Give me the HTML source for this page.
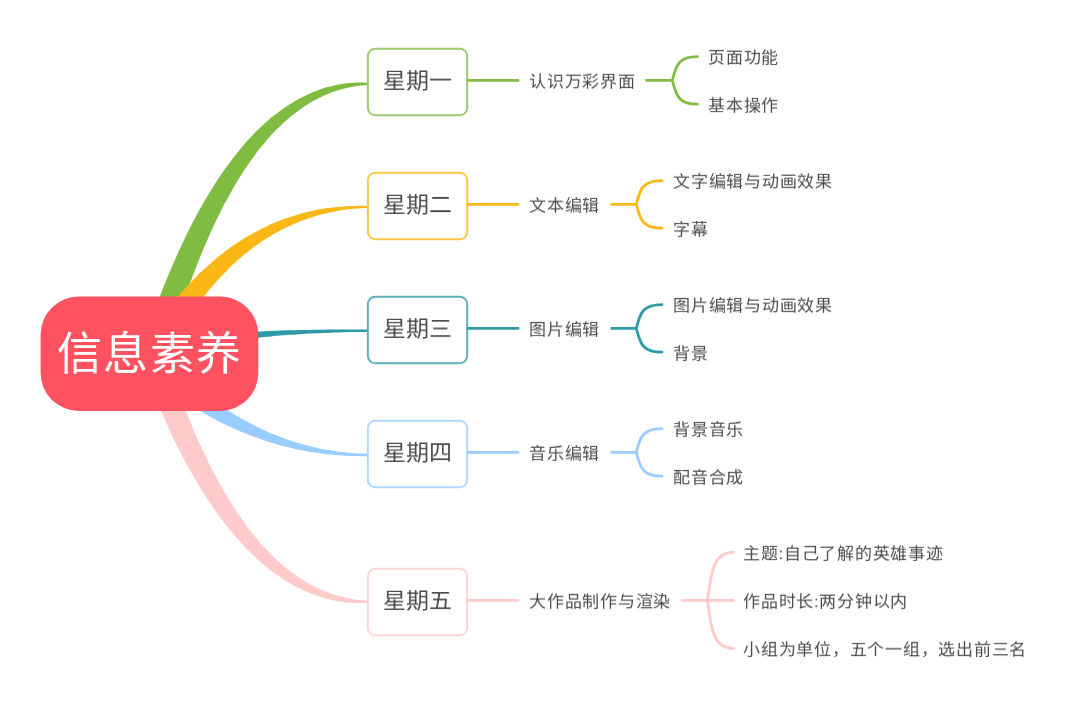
<!DOCTYPE html>
<html lang="zh-CN"><head><meta charset="utf-8"><style>
html,body{margin:0;padding:0;background:#fff;width:1080px;height:708px;overflow:hidden}
body{position:relative;font-family:"Liberation Sans",sans-serif;color:#4d4d4d}
svg{position:absolute;left:0;top:0}
.t,.m,.s{position:absolute;white-space:nowrap;line-height:1;will-change:transform}
.root{left:57px;top:332px;font-size:45px;letter-spacing:1.3px;color:#fff}
.m{left:383px;font-size:23px;line-height:32px;height:32px;transform:translateY(-0.5px) scaleY(0.95)}
.s{left:529px;font-size:17px;letter-spacing:0.75px;line-height:22px;height:22px;transform:translateY(0.4px) scaleY(0.95)}
</style></head><body>
<svg width="1080" height="708" viewBox="0 0 1080 708">
<path d="M163.88,366.00 C165.20,361.33 166.51,356.59 167.83,351.98 C169.16,347.36 170.50,342.81 171.85,338.32 C173.20,333.83 174.56,329.39 175.93,325.02 C177.30,320.65 178.69,316.34 180.08,312.10 C181.47,307.85 182.88,303.66 184.29,299.53 C185.70,295.41 187.13,291.34 188.57,287.33 C190.00,283.33 191.45,279.38 192.91,275.50 C194.36,271.62 195.83,267.79 197.31,264.03 C198.79,260.27 200.28,256.57 201.78,252.92 C203.28,249.28 204.79,245.70 206.32,242.18 C207.84,238.66 209.37,235.20 210.91,231.80 C212.46,228.40 214.01,225.07 215.57,221.79 C217.14,218.51 218.71,215.29 220.30,212.13 C221.89,208.98 223.48,205.88 225.09,202.84 C226.70,199.80 228.31,196.83 229.94,193.91 C231.57,190.99 233.21,188.14 234.86,185.34 C236.51,182.54 238.17,179.81 239.84,177.13 C241.51,174.45 243.19,171.83 244.88,169.28 C246.58,166.72 248.28,164.22 249.99,161.78 C251.71,159.34 253.43,156.96 255.16,154.64 C256.90,152.32 258.65,150.06 260.40,147.86 C262.16,145.66 263.93,143.51 265.70,141.43 C267.48,139.34 269.27,137.32 271.07,135.35 C272.88,133.38 274.69,131.47 276.51,129.62 C278.34,127.77 280.17,125.98 282.02,124.25 C283.87,122.51 285.72,120.83 287.59,119.21 C289.47,117.59 291.35,116.03 293.24,114.53 C295.14,113.02 297.05,111.58 298.97,110.19 C300.89,108.80 302.83,107.46 304.77,106.19 C306.72,104.91 308.68,103.69 310.66,102.53 C312.63,101.37 314.62,100.26 316.63,99.22 C318.63,98.17 320.65,97.18 322.68,96.24 C324.72,95.30 326.77,94.43 328.83,93.60 C330.90,92.78 332.98,92.02 335.08,91.31 C337.18,90.60 339.29,89.95 341.42,89.35 C343.55,88.76 345.70,88.22 347.87,87.74 C350.04,87.26 352.22,86.84 354.42,86.47 C356.62,86.10 358.84,85.79 361.08,85.53 C363.32,85.27 365.59,85.11 367.85,84.89 L367.85,82.89 C365.54,82.80 363.23,82.64 360.92,82.62 C358.62,82.60 356.32,82.66 354.02,82.78 C351.72,82.90 349.43,83.09 347.15,83.34 C344.86,83.59 342.58,83.91 340.30,84.29 C338.02,84.67 335.75,85.11 333.49,85.63 C331.23,86.14 328.97,86.71 326.72,87.36 C324.46,88.00 322.22,88.70 319.98,89.48 C317.74,90.25 315.51,91.09 313.29,91.99 C311.07,92.89 308.85,93.86 306.65,94.89 C304.44,95.93 302.24,97.03 300.06,98.19 C297.87,99.35 295.69,100.58 293.52,101.88 C291.35,103.17 289.19,104.53 287.04,105.95 C284.89,107.37 282.75,108.86 280.62,110.41 C278.49,111.97 276.37,113.58 274.26,115.26 C272.15,116.94 270.06,118.69 267.97,120.50 C265.88,122.30 263.81,124.18 261.74,126.11 C259.68,128.05 257.63,130.05 255.59,132.11 C253.55,134.17 251.52,136.30 249.50,138.49 C247.48,140.68 245.48,142.93 243.48,145.24 C241.49,147.56 239.51,149.94 237.53,152.38 C235.56,154.82 233.61,157.32 231.66,159.88 C229.71,162.45 227.78,165.08 225.85,167.77 C223.93,170.46 222.02,173.21 220.12,176.02 C218.22,178.83 216.34,181.71 214.46,184.65 C212.59,187.59 210.72,190.59 208.87,193.65 C207.02,196.71 205.18,199.83 203.36,203.02 C201.53,206.20 199.72,209.45 197.91,212.76 C196.11,216.07 194.32,219.44 192.54,222.87 C190.76,226.30 188.99,229.79 187.24,233.35 C185.48,236.90 183.74,240.52 182.01,244.19 C180.28,247.87 178.56,251.61 176.85,255.41 C175.15,259.21 173.45,263.07 171.77,266.99 C170.08,270.92 168.41,274.90 166.75,278.95 C165.09,282.99 163.44,287.10 161.81,291.26 C160.17,295.43 158.55,299.66 156.93,303.95 C155.32,308.24 153.72,312.59 152.13,317.00 C150.54,321.41 148.97,325.89 147.40,330.42 C145.84,334.96 144.28,339.55 142.74,344.21 C141.20,348.86 139.68,353.64 138.15,358.36Z" fill="#80bc42"/>
<path d="M163.86,361.18 C165.13,358.69 166.40,356.17 167.69,353.72 C168.98,351.26 170.28,348.83 171.59,346.44 C172.90,344.04 174.22,341.68 175.56,339.35 C176.89,337.02 178.24,334.72 179.59,332.45 C180.95,330.18 182.32,327.94 183.70,325.73 C185.08,323.52 186.47,321.35 187.87,319.20 C189.27,317.06 190.68,314.94 192.11,312.86 C193.53,310.78 194.97,308.72 196.42,306.70 C197.86,304.68 199.32,302.69 200.79,300.73 C202.27,298.77 203.75,296.84 205.24,294.94 C206.74,293.04 208.24,291.18 209.76,289.34 C211.28,287.50 212.81,285.70 214.35,283.92 C215.89,282.15 217.45,280.40 219.01,278.69 C220.58,276.97 222.16,275.29 223.75,273.63 C225.34,271.98 226.94,270.36 228.56,268.77 C230.17,267.17 231.80,265.61 233.44,264.08 C235.08,262.55 236.73,261.05 238.39,259.58 C240.06,258.11 241.74,256.67 243.43,255.26 C245.12,253.85 246.82,252.47 248.53,251.13 C250.25,249.78 251.98,248.46 253.72,247.17 C255.46,245.89 257.22,244.63 258.99,243.40 C260.75,242.18 262.54,240.98 264.33,239.82 C266.12,238.65 267.93,237.52 269.75,236.42 C271.58,235.31 273.41,234.24 275.26,233.20 C277.11,232.16 278.97,231.15 280.85,230.17 C282.72,229.19 284.61,228.24 286.52,227.32 C288.42,226.40 290.34,225.52 292.27,224.66 C294.20,223.81 296.15,222.98 298.11,222.19 C300.07,221.40 302.04,220.64 304.03,219.91 C306.02,219.18 308.02,218.48 310.04,217.82 C312.05,217.16 314.08,216.52 316.13,215.92 C318.17,215.32 320.23,214.75 322.30,214.22 C324.37,213.68 326.46,213.18 328.56,212.71 C330.66,212.23 332.77,211.80 334.90,211.39 C337.03,210.99 339.17,210.62 341.33,210.28 C343.48,209.94 345.65,209.63 347.84,209.36 C350.02,209.10 352.22,208.86 354.43,208.66 C356.64,208.46 358.86,208.29 361.10,208.16 C363.34,208.04 365.60,207.99 367.85,207.91 L367.85,205.91 C365.58,205.88 363.30,205.84 361.03,205.84 C358.77,205.85 356.52,205.87 354.27,205.93 C352.02,205.99 349.79,206.08 347.56,206.20 C345.33,206.32 343.11,206.46 340.90,206.65 C338.69,206.83 336.48,207.04 334.29,207.28 C332.09,207.52 329.90,207.80 327.72,208.11 C325.54,208.41 323.37,208.75 321.21,209.12 C319.05,209.49 316.89,209.90 314.74,210.33 C312.60,210.77 310.46,211.24 308.33,211.74 C306.19,212.24 304.07,212.77 301.96,213.34 C299.84,213.91 297.73,214.51 295.63,215.14 C293.53,215.78 291.44,216.44 289.36,217.14 C287.28,217.84 285.20,218.58 283.13,219.35 C281.07,220.11 279.01,220.91 276.96,221.75 C274.91,222.58 272.87,223.45 270.83,224.35 C268.80,225.26 266.77,226.19 264.76,227.16 C262.74,228.13 260.73,229.14 258.73,230.18 C256.73,231.22 254.74,232.29 252.76,233.40 C250.78,234.50 248.81,235.64 246.84,236.82 C244.88,237.99 242.92,239.20 240.98,240.45 C239.03,241.69 237.09,242.97 235.17,244.28 C233.24,245.60 231.32,246.94 229.41,248.32 C227.50,249.70 225.60,251.12 223.71,252.57 C221.82,254.02 219.94,255.50 218.07,257.02 C216.20,258.54 214.34,260.09 212.49,261.68 C210.64,263.27 208.80,264.89 206.97,266.54 C205.14,268.20 203.32,269.89 201.50,271.61 C199.69,273.33 197.89,275.09 196.10,276.88 C194.31,278.68 192.53,280.50 190.76,282.36 C188.99,284.22 187.23,286.12 185.48,288.05 C183.73,289.97 181.99,291.94 180.26,293.93 C178.54,295.93 176.82,297.96 175.11,300.02 C173.40,302.09 171.71,304.18 170.02,306.32 C168.33,308.45 166.66,310.61 164.99,312.81 C163.33,315.01 161.67,317.24 160.03,319.51 C158.39,321.78 156.75,324.08 155.13,326.41 C153.51,328.74 151.90,331.11 150.30,333.51 C148.70,335.91 147.11,338.35 145.53,340.81 C143.95,343.28 142.40,345.82 140.83,348.32Z" fill="#fbb716"/>
<path d="M154.18,361.43 C155.25,360.97 156.29,360.51 157.38,360.06 C158.47,359.61 159.58,359.16 160.71,358.72 C161.84,358.28 163.00,357.84 164.17,357.41 C165.34,356.98 166.54,356.55 167.75,356.13 C168.97,355.70 170.20,355.28 171.46,354.87 C172.72,354.46 173.99,354.05 175.29,353.64 C176.59,353.24 177.91,352.84 179.25,352.45 C180.58,352.05 181.94,351.66 183.32,351.28 C184.70,350.89 186.10,350.52 187.52,350.14 C188.94,349.77 190.38,349.40 191.84,349.04 C193.30,348.68 194.78,348.32 196.28,347.97 C197.78,347.61 199.30,347.27 200.84,346.93 C202.38,346.58 203.94,346.25 205.51,345.92 C207.09,345.59 208.69,345.26 210.31,344.94 C211.93,344.62 213.57,344.31 215.23,344.00 C216.88,343.69 218.56,343.39 220.26,343.09 C221.96,342.79 223.67,342.50 225.41,342.21 C227.14,341.93 228.90,341.65 230.68,341.37 C232.45,341.09 234.25,340.83 236.06,340.56 C237.87,340.30 239.71,340.04 241.56,339.79 C243.41,339.53 245.28,339.29 247.18,339.05 C249.07,338.81 250.98,338.57 252.91,338.34 C254.84,338.11 256.79,337.89 258.76,337.67 C260.72,337.45 262.71,337.24 264.72,337.03 C266.72,336.83 268.75,336.63 270.80,336.43 C272.84,336.24 274.90,336.05 276.99,335.87 C279.07,335.69 281.17,335.51 283.29,335.34 C285.42,335.17 287.56,335.00 289.72,334.85 C291.88,334.69 294.05,334.53 296.25,334.39 C298.45,334.24 300.67,334.10 302.90,333.97 C305.14,333.83 307.39,333.71 309.66,333.58 C311.94,333.46 314.23,333.35 316.54,333.24 C318.85,333.13 321.18,333.03 323.53,332.93 C325.88,332.83 328.25,332.74 330.64,332.66 C333.02,332.58 335.43,332.50 337.85,332.43 C340.28,332.36 342.72,332.30 345.18,332.24 C347.65,332.18 350.13,332.14 352.63,332.09 C355.13,332.05 357.64,332.02 360.18,331.99 C362.72,331.97 365.29,331.96 367.85,331.95 L367.85,329.57 C365.29,329.57 362.71,329.56 360.17,329.56 C357.63,329.55 355.11,329.55 352.61,329.55 C350.10,329.55 347.62,329.55 345.15,329.55 C342.68,329.56 340.24,329.56 337.81,329.58 C335.38,329.59 332.96,329.60 330.57,329.62 C328.18,329.64 325.80,329.66 323.45,329.68 C321.09,329.71 318.76,329.74 316.44,329.77 C314.12,329.80 311.82,329.84 309.53,329.88 C307.25,329.92 304.99,329.96 302.74,330.01 C300.49,330.05 298.27,330.11 296.06,330.16 C293.85,330.22 291.66,330.28 289.49,330.34 C287.31,330.40 285.16,330.47 283.02,330.54 C280.89,330.62 278.77,330.69 276.67,330.77 C274.57,330.85 272.49,330.94 270.42,331.02 C268.36,331.11 266.31,331.21 264.29,331.30 C262.26,331.40 260.25,331.50 258.26,331.61 C256.27,331.71 254.30,331.82 252.34,331.93 C250.39,332.05 248.45,332.17 246.53,332.29 C244.61,332.41 242.71,332.54 240.83,332.67 C238.95,332.80 237.08,332.94 235.23,333.08 C233.39,333.22 231.56,333.36 229.75,333.51 C227.93,333.66 226.14,333.81 224.37,333.97 C222.59,334.13 220.83,334.29 219.09,334.46 C217.35,334.62 215.63,334.80 213.92,334.97 C212.22,335.15 210.53,335.33 208.86,335.51 C207.19,335.70 205.54,335.89 203.91,336.08 C202.27,336.28 200.66,336.48 199.06,336.68 C197.46,336.88 195.88,337.09 194.31,337.31 C192.75,337.52 191.20,337.74 189.67,337.96 C188.14,338.18 186.63,338.41 185.13,338.64 C183.63,338.88 182.16,339.11 180.69,339.36 C179.23,339.60 177.79,339.85 176.36,340.10 C174.93,340.35 173.52,340.61 172.13,340.87 C170.73,341.13 169.36,341.40 168.00,341.67 C166.64,341.95 165.29,342.22 163.97,342.51 C162.64,342.79 161.33,343.08 160.03,343.37 C158.74,343.67 157.46,343.97 156.20,344.27 C154.94,344.58 153.69,344.89 152.46,345.20 C151.23,345.52 150.04,345.85 148.82,346.17Z" fill="#2d9aa8"/>
<path d="M129.19,357.26 C131.10,359.00 133.00,360.78 134.92,362.50 C136.83,364.23 138.75,365.93 140.67,367.60 C142.60,369.28 144.52,370.93 146.45,372.56 C148.38,374.18 150.32,375.79 152.26,377.37 C154.19,378.94 156.14,380.50 158.08,382.03 C160.03,383.56 161.97,385.06 163.93,386.54 C165.88,388.02 167.84,389.48 169.80,390.91 C171.76,392.34 173.72,393.75 175.69,395.13 C177.65,396.52 179.62,397.88 181.60,399.21 C183.57,400.55 185.55,401.86 187.53,403.14 C189.51,404.43 191.49,405.69 193.48,406.93 C195.47,408.17 197.46,409.38 199.45,410.57 C201.45,411.76 203.44,412.93 205.44,414.07 C207.44,415.21 209.45,416.33 211.46,417.42 C213.46,418.51 215.47,419.58 217.49,420.63 C219.50,421.67 221.52,422.69 223.54,423.69 C225.55,424.69 227.58,425.66 229.60,426.61 C231.63,427.56 233.66,428.49 235.69,429.39 C237.72,430.29 239.76,431.17 241.79,432.02 C243.83,432.88 245.87,433.71 247.92,434.52 C249.96,435.33 252.01,436.11 254.06,436.87 C256.11,437.63 258.16,438.37 260.21,439.08 C262.27,439.80 264.33,440.49 266.39,441.16 C268.45,441.82 270.52,442.47 272.58,443.09 C274.65,443.71 276.72,444.31 278.80,444.89 C280.87,445.46 282.95,446.01 285.03,446.54 C287.11,447.07 289.19,447.58 291.27,448.07 C293.36,448.55 295.45,449.01 297.54,449.45 C299.63,449.89 301.73,450.31 303.83,450.70 C305.92,451.10 308.03,451.47 310.13,451.82 C312.24,452.17 314.34,452.50 316.46,452.81 C318.57,453.11 320.68,453.40 322.80,453.66 C324.92,453.93 327.04,454.17 329.17,454.39 C331.29,454.61 333.42,454.81 335.55,454.98 C337.69,455.16 339.82,455.32 341.96,455.46 C344.10,455.59 346.25,455.71 348.40,455.80 C350.55,455.90 352.70,455.97 354.86,456.03 C357.01,456.09 359.17,456.12 361.34,456.14 C363.50,456.16 365.68,456.15 367.85,456.16 L367.85,453.64 C365.70,453.60 363.54,453.59 361.40,453.51 C359.25,453.44 357.11,453.33 354.98,453.20 C352.85,453.07 350.72,452.91 348.60,452.73 C346.48,452.54 344.37,452.33 342.26,452.09 C340.15,451.85 338.06,451.59 335.96,451.30 C333.87,451.01 331.78,450.69 329.71,450.35 C327.63,450.01 325.56,449.64 323.49,449.25 C321.43,448.85 319.37,448.44 317.32,447.99 C315.27,447.55 313.23,447.08 311.20,446.59 C309.16,446.10 307.14,445.58 305.12,445.04 C303.10,444.49 301.08,443.93 299.08,443.34 C297.07,442.75 295.08,442.13 293.09,441.49 C291.10,440.85 289.12,440.18 287.14,439.50 C285.17,438.81 283.20,438.10 281.24,437.36 C279.29,436.62 277.34,435.86 275.39,435.08 C273.45,434.29 271.51,433.49 269.59,432.65 C267.66,431.82 265.74,430.97 263.83,430.09 C261.91,429.21 260.01,428.31 258.11,427.38 C256.22,426.45 254.33,425.50 252.45,424.53 C250.57,423.56 248.69,422.56 246.83,421.54 C244.96,420.52 243.10,419.48 241.25,418.41 C239.40,417.35 237.56,416.26 235.73,415.15 C233.89,414.04 232.06,412.90 230.24,411.74 C228.42,410.58 226.61,409.40 224.81,408.20 C223.00,407.00 221.21,405.77 219.42,404.52 C217.63,403.27 215.85,402.00 214.07,400.70 C212.30,399.41 210.53,398.09 208.77,396.75 C207.01,395.41 205.26,394.04 203.52,392.66 C201.77,391.27 200.03,389.86 198.31,388.43 C196.58,387.00 194.85,385.55 193.14,384.07 C191.42,382.59 189.71,381.09 188.01,379.57 C186.31,378.05 184.62,376.51 182.93,374.94 C181.25,373.37 179.57,371.78 177.90,370.17 C176.22,368.56 174.56,366.92 172.90,365.27 C171.24,363.61 169.59,361.93 167.95,360.23 C166.31,358.53 164.67,356.80 163.04,355.06 C161.41,353.31 159.79,351.54 158.17,349.75 C156.55,347.96 154.94,346.14 153.34,344.31 C151.74,342.47 150.15,340.59 148.56,338.73Z" fill="#99ccff"/>
<path d="M139.08,355.80 C140.64,360.04 142.19,364.34 143.76,368.53 C145.33,372.71 146.92,376.84 148.51,380.92 C150.11,385.00 151.71,389.02 153.33,392.98 C154.94,396.95 156.57,400.86 158.21,404.72 C159.85,408.57 161.49,412.38 163.15,416.12 C164.81,419.87 166.48,423.56 168.16,427.19 C169.85,430.83 171.54,434.41 173.24,437.94 C174.94,441.46 176.66,444.93 178.38,448.35 C180.11,451.76 181.84,455.12 183.59,458.43 C185.33,461.73 187.09,464.98 188.86,468.17 C190.63,471.37 192.41,474.50 194.20,477.59 C195.99,480.67 197.79,483.70 199.60,486.67 C201.41,489.64 203.24,492.56 205.07,495.42 C206.90,498.28 208.75,501.08 210.61,503.83 C212.46,506.58 214.33,509.27 216.21,511.91 C218.08,514.55 219.97,517.13 221.87,519.65 C223.77,522.18 225.68,524.65 227.60,527.06 C229.52,529.47 231.46,531.83 233.40,534.13 C235.34,536.43 237.30,538.67 239.26,540.86 C241.22,543.05 243.20,545.18 245.18,547.25 C247.17,549.33 249.17,551.34 251.17,553.30 C253.18,555.26 255.20,557.17 257.22,559.01 C259.25,560.86 261.29,562.65 263.34,564.38 C265.38,566.11 267.44,567.79 269.51,569.40 C271.58,571.02 273.65,572.58 275.74,574.08 C277.83,575.58 279.92,577.03 282.03,578.41 C284.13,579.80 286.25,581.12 288.37,582.39 C290.49,583.66 292.63,584.87 294.77,586.03 C296.91,587.18 299.06,588.28 301.21,589.31 C303.37,590.35 305.54,591.33 307.71,592.24 C309.88,593.16 312.06,594.03 314.25,594.83 C316.43,595.63 318.63,596.37 320.83,597.06 C323.03,597.74 325.24,598.37 327.45,598.94 C329.66,599.51 331.88,600.02 334.10,600.47 C336.33,600.92 338.56,601.32 340.79,601.65 C343.03,601.99 345.27,602.27 347.52,602.49 C349.76,602.71 352.01,602.87 354.27,602.97 C356.52,603.07 358.78,603.12 361.05,603.10 C363.31,603.08 365.58,602.93 367.85,602.85 L367.85,600.85 C365.63,600.65 363.39,600.50 361.19,600.26 C358.98,600.02 356.79,599.74 354.62,599.41 C352.45,599.07 350.29,598.68 348.15,598.24 C346.01,597.81 343.89,597.32 341.78,596.77 C339.67,596.23 337.58,595.64 335.50,594.99 C333.42,594.35 331.36,593.65 329.31,592.91 C327.26,592.16 325.23,591.36 323.21,590.51 C321.19,589.66 319.19,588.76 317.19,587.81 C315.20,586.86 313.23,585.85 311.26,584.80 C309.30,583.74 307.35,582.64 305.41,581.48 C303.47,580.32 301.54,579.12 299.63,577.86 C297.72,576.60 295.82,575.29 293.93,573.92 C292.04,572.56 290.16,571.15 288.30,569.68 C286.43,568.22 284.58,566.70 282.73,565.13 C280.89,563.56 279.06,561.94 277.24,560.27 C275.42,558.59 273.61,556.87 271.81,555.09 C270.01,553.31 268.22,551.48 266.45,549.60 C264.67,547.72 262.90,545.79 261.14,543.80 C259.39,541.81 257.64,539.77 255.90,537.68 C254.17,535.58 252.44,533.44 250.72,531.24 C249.01,529.04 247.30,526.79 245.61,524.48 C243.91,522.18 242.22,519.82 240.55,517.41 C238.87,514.99 237.21,512.53 235.55,510.01 C233.89,507.49 232.25,504.92 230.61,502.29 C228.97,499.67 227.34,496.98 225.73,494.25 C224.11,491.52 222.50,488.73 220.91,485.89 C219.31,483.04 217.72,480.15 216.14,477.20 C214.56,474.25 213.00,471.24 211.44,468.19 C209.88,465.13 208.33,462.02 206.79,458.85 C205.25,455.68 203.72,452.46 202.20,449.19 C200.69,445.91 199.18,442.58 197.68,439.20 C196.18,435.81 194.69,432.37 193.21,428.88 C191.73,425.39 190.26,421.84 188.80,418.24 C187.34,414.64 185.89,410.98 184.45,407.27 C183.01,403.56 181.58,399.79 180.16,395.97 C178.73,392.15 177.32,388.28 175.92,384.35 C174.52,380.42 173.13,376.44 171.75,372.40 C170.37,368.36 169.00,364.27 167.64,360.12 C166.28,355.97 164.94,351.72 163.58,347.51Z" fill="#ffcaca"/>
<rect x="367.85" y="48.65" width="99.35" height="66.65" rx="7.5" fill="#fff" stroke="#9ccb6c" stroke-width="2"/>
<path d="M468,80.4 H518" stroke="#80bc42" stroke-width="2.8" stroke-linecap="round" fill="none"/>
<path d="M646.5,80.4 H672.3 M672.3,80.4 C676.06,68.50 676.06,56.60 697.40,56.60 M672.3,80.4 C676.06,92.30 676.06,104.20 697.40,104.20" stroke="#80bc42" stroke-width="2.8" stroke-linecap="round" stroke-linejoin="round" fill="none"/>
<rect x="367.85" y="172.65" width="99.35" height="66.65" rx="7.5" fill="#fff" stroke="#fcc749" stroke-width="2"/>
<path d="M468,204.4 H518" stroke="#fbb716" stroke-width="2.8" stroke-linecap="round" fill="none"/>
<path d="M611.8,204.4 H636.2 M636.2,204.4 C640.07,192.50 640.07,180.60 662.00,180.60 M636.2,204.4 C640.07,216.30 640.07,228.20 662.00,228.20" stroke="#fbb716" stroke-width="2.8" stroke-linecap="round" stroke-linejoin="round" fill="none"/>
<rect x="367.85" y="296.65" width="99.35" height="66.65" rx="7.5" fill="#fff" stroke="#5bb0bb" stroke-width="2"/>
<path d="M468,328.4 H518" stroke="#2d9aa8" stroke-width="2.8" stroke-linecap="round" fill="none"/>
<path d="M611.8,328.4 H636.2 M636.2,328.4 C640.07,316.50 640.07,304.60 662.00,304.60 M636.2,328.4 C640.07,340.30 640.07,352.20 662.00,352.20" stroke="#2d9aa8" stroke-width="2.8" stroke-linecap="round" stroke-linejoin="round" fill="none"/>
<rect x="367.85" y="420.65" width="99.35" height="66.65" rx="7.5" fill="#fff" stroke="#afd7ff" stroke-width="2"/>
<path d="M468,452.4 H518" stroke="#99ccff" stroke-width="2.8" stroke-linecap="round" fill="none"/>
<path d="M611.8,452.4 H636.2 M636.2,452.4 C640.07,440.50 640.07,428.60 662.00,428.60 M636.2,452.4 C640.07,464.30 640.07,476.20 662.00,476.20" stroke="#99ccff" stroke-width="2.8" stroke-linecap="round" stroke-linejoin="round" fill="none"/>
<rect x="367.85" y="568.65" width="99.35" height="66.65" rx="7.5" fill="#fff" stroke="#ffd6d6" stroke-width="2"/>
<path d="M468,600.4 H518" stroke="#ffcaca" stroke-width="2.8" stroke-linecap="round" fill="none"/>
<path d="M682.0,600.4 H707.4 M707.4,600.4 C711.27,576.40 711.27,552.40 733.20,552.40 M707.4,600.4 H733.2 M707.4,600.4 C711.27,624.40 711.27,648.40 733.20,648.40" stroke="#ffcaca" stroke-width="2.8" stroke-linecap="round" stroke-linejoin="round" fill="none"/>
<rect x="40.6" y="296.6" width="217.7" height="114.3" rx="38" fill="#ff5261"/>
</svg>
<div class="t root">信息素养</div>
<div class="m" style="top:65px">星期一</div>
<div class="s" style="top:71px">认识万彩界面</div>
<div class="s" style="left:708.4px;top:47px">页面功能</div>
<div class="s" style="left:708.4px;top:95px">基本操作</div>
<div class="m" style="top:189px">星期二</div>
<div class="s" style="top:195px">文本编辑</div>
<div class="s" style="left:673.0px;top:171px">文字编辑与动画效果</div>
<div class="s" style="left:673.0px;top:219px">字幕</div>
<div class="m" style="top:313px">星期三</div>
<div class="s" style="top:319px">图片编辑</div>
<div class="s" style="left:673.0px;top:295px">图片编辑与动画效果</div>
<div class="s" style="left:673.0px;top:343px">背景</div>
<div class="m" style="top:437px">星期四</div>
<div class="s" style="top:443px">音乐编辑</div>
<div class="s" style="left:673.0px;top:419px">背景音乐</div>
<div class="s" style="left:673.0px;top:467px">配音合成</div>
<div class="m" style="top:585px">星期五</div>
<div class="s" style="top:591px">大作品制作与渲染</div>
<div class="s" style="left:743.2px;top:543px">主题:自己了解的英雄事迹</div>
<div class="s" style="left:743.2px;top:591px">作品时长:两分钟以内</div>
<div class="s" style="left:743.2px;top:639px">小组为单位，五个一组，选出前三名</div>
</body></html>
